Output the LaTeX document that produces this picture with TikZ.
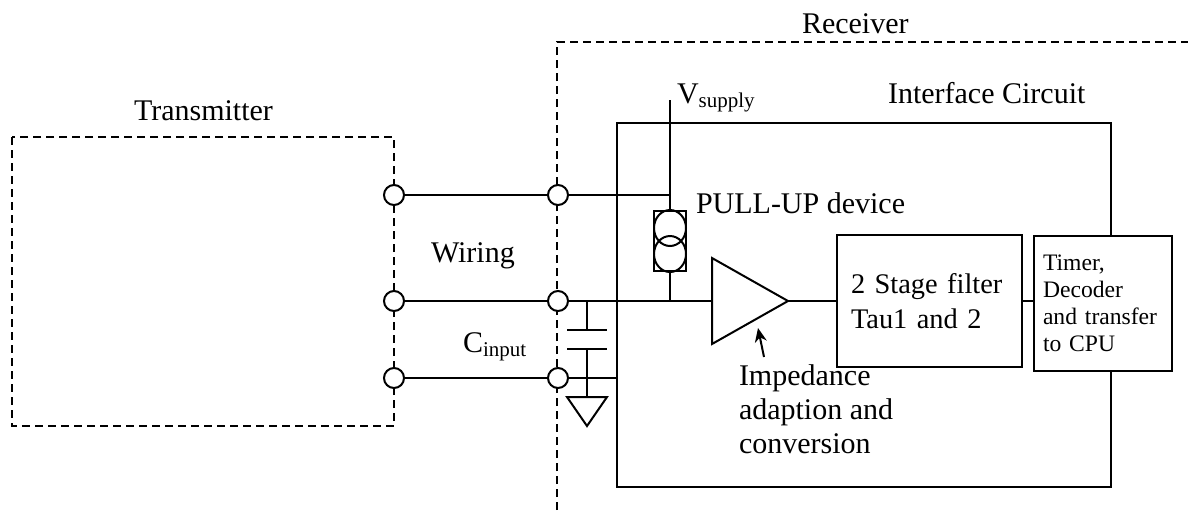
\documentclass[tikz,border=0pt]{standalone}
\usepackage{fontspec}
\setmainfont{Liberation Serif}
\usetikzlibrary{arrows.meta}
\tikzset{
  lbl/.style   = {inner sep=0pt, anchor=base west,
                  font=\fontsize{15}{17}\selectfont},
  term/.style  = {circle, draw, fill=white, minimum size=10pt, inner sep=0pt},
  blk/.style   = {rectangle, draw, fill=white, align=left,
                  font=\fontsize{14.2}{17.5}\selectfont},
  border/.style= {dash pattern=on 4pt off 2.5pt},
  arr/.style   = {-{Stealth[length=7pt,width=6pt]}}
}
\begin{document}
\begin{tikzpicture}[x=0.5pt,y=-0.5pt,line width=1pt]
    \useasboundingbox (0,0) rectangle (1188,510);
    % dashed borders
    \draw[border] (12,137) rectangle (394,426);
    \draw[border] (557,510) -- (557,42) -- (1188,42);
    \node[draw,inner sep=0pt,minimum width=247pt,minimum height=182pt] (ifc) at (864,305) {};
    % terminals
    \node[term] (txa) at (394,195) {};
    \node[term] (txb) at (394,301) {};
    \node[term] (txc) at (394,378) {};
    \node[term] (rxa) at (558,195) {};
    \node[term] (rxb) at (558,301) {};
    \node[term] (rxc) at (558,378) {};
    % pull-up
    \coordinate (vs) at (670,100);
    \coordinate (puj) at (670,195);
    \node[draw,fill=white,inner sep=0pt,minimum width=16pt,minimum height=30pt] (pu) at (670,241) {};
    \draw (pu.north) ++(0,18) ellipse [x radius=8pt, y radius=9pt];
    \draw (pu.south) ++(0,-18) ellipse [x radius=8pt, y radius=9pt];
    % amplifier
    \coordinate (ampin) at (712,301);
    \coordinate (ampout) at (788,301);
    \draw (712,258) -- (ampout) -- (712,344) -- cycle;
    % capacitor and ground
    \coordinate (capj) at (587,301);
    \coordinate (capt) at (587,330);
    \coordinate (capb) at (587,349);
    \coordinate (gnd) at (587,397);
    \draw (capj) -- (capt);
    \draw (capt) ++(-20,0) -- ++(40,0);
    \draw (capb) ++(-20,0) -- ++(40,0);
    \draw (capb) -- (gnd);
    \draw (gnd) ++(-20,0) -- ++(40,0) -- ++(-20,29) -- cycle;
    % blocks
    \node[blk,text width=78.5pt,inner xsep=7pt,minimum height=66pt] (filt) at (929.5,301) {2 Stage filter\\Tau1 and 2};
    \node[blk,text width=60pt,inner xsep=4.5pt,minimum height=67.5pt,
          font=\fontsize{11.8}{13.5}\selectfont] (cpu) at (1103,303) {Timer,\\Decoder\\and transfer\\to CPU};
    % wires
    \draw (txa) -- (rxa) -- (puj);
    \draw (vs) -- (pu.north);
    \draw (pu.south) -- (pu.south |- ampin);
    \draw (txb) -- (rxb) -- (ampin);
    \draw (txc) -- (rxc) -- (rxc -| ifc.west);
    \draw (ampout) -- (filt.west);
    \draw (filt.east) -- (filt.east -| cpu.west);
    \coordinate (arrtail) at (764,357);
    \coordinate (arrtip) at (758,328);
    \draw[arr] (arrtail) -- (arrtip);
    % labels
    \node[lbl] (rxlab) at (801,33) {Receiver};
    \node[lbl] (txlab) at (133,120) {Transmitter};
    \node[lbl] (iflab) at (887,103) {Interface Circuit};
    \node[lbl] (vlab) at (676,103) {V\textsubscript{supply}};
    \node[lbl] (pulab) at (695,213) {PULL-UP device};
    \node[lbl] (wlab) at (430,262) {Wiring};
    \node[lbl] (clab) at (462,352) {C\textsubscript{input}};
    \node[lbl,anchor=north west,align=left] (implab) at (738,364) {Impedance\\adaption and\\conversion};
\end{tikzpicture}
\end{document}
